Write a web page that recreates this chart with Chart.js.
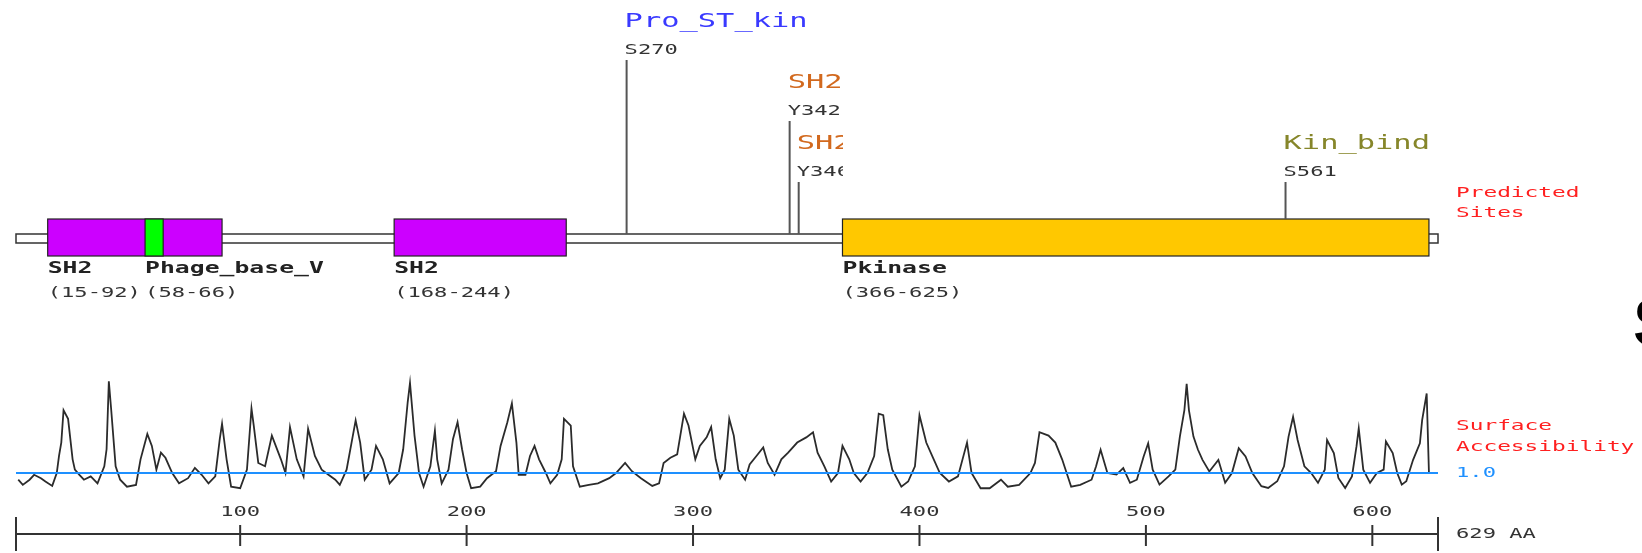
<!DOCTYPE html>
<html>
<head>
<meta charset="utf-8">
<script src="https://cdn.jsdelivr.net/npm/chart.js@4/dist/chart.umd.min.js"></script>
<style>
  html, body { margin: 0; padding: 0; background: #fff; overflow: hidden; }
  canvas { display: block; }
</style>
</head>
<body>
<canvas id="c" width="1642" height="553"></canvas>
<script>
// ---- protein data ----
const proteinLength = 629;

const domainNames  = ['SH2', 'Phage_base_V', 'SH2', 'Pkinase'];
const domainStarts = [15, 58, 168, 366];
const domainEnds   = [92, 66, 244, 625];

const siteNames    = ['Pro_ST_kin', 'SH2', 'SH2', 'Kin_bind'];
const siteResidues = [270, 342, 346, 561];
const siteLabels   = ['S270', 'Y342', 'Y346', 'S561'];

const axisTicks = [100, 200, 300, 400, 500, 600];
const accThreshold = 1.0;

// surface accessibility profile (residue, value)
const accPos = [
  2, 4, 7, 9, 12, 14, 17, 19, 20, 21, 22, 24, 26, 27, 29, 31, 34, 37, 40, 41,
  42, 43, 45, 47, 50, 54, 56, 59, 61, 63, 65, 67, 70, 73, 77, 80, 83, 86, 89, 91,
  92, 94, 96, 100, 103, 105, 106, 108, 111, 114, 118, 120, 122, 125, 128, 130, 133, 136, 139, 142,
  144, 147, 151, 153, 155, 158, 160, 163, 166, 170, 172, 174, 175, 177, 179, 181, 184, 186, 187, 189,
  192, 194, 196, 198, 200, 202, 206, 209, 213, 215, 218, 220, 222, 223, 226, 228, 230, 232, 235, 237,
  240, 242, 243, 246, 247, 250, 254, 258, 263, 266, 270, 273, 277, 282, 285, 287, 290, 293, 296, 298,
  301, 303, 306, 308, 310, 312, 314, 316, 318, 320, 323, 325, 328, 331, 333, 336, 339, 342, 346, 350,
  353, 355, 358, 361, 364, 366, 369, 371, 374, 377, 380, 382, 384, 386, 388, 392, 395, 398, 400, 403,
  406, 409, 413, 417, 421, 423, 427, 431, 436, 439, 444, 449, 451, 453, 457, 460, 463, 465, 467, 471,
  476, 478, 480, 483, 487, 490, 493, 496, 499, 501, 503, 506, 510, 513, 515, 517, 518, 519, 521, 523,
  525, 528, 532, 535, 538, 541, 544, 547, 551, 554, 558, 561, 563, 565, 567, 570, 573, 576, 579, 580,
  583, 585, 588, 591, 593, 594, 596, 599, 602, 605, 606, 609, 611, 613, 615, 618, 621, 622, 624, 625
];
const accVal = [
  0.74, 0.54, 0.74, 0.93, 0.80, 0.67, 0.50, 1.00, 1.66, 2.18, 3.43, 3.10, 1.53, 1.13, 0.93, 0.74, 0.87, 0.60, 1.26, 1.92,
  4.55, 3.50, 1.26, 0.74, 0.47, 0.54, 1.53, 2.51, 2.05, 1.13, 1.79, 1.59, 1.00, 0.60, 0.80, 1.20, 0.93, 0.60, 0.87, 2.32,
  2.91, 1.53, 0.47, 0.41, 1.13, 3.50, 2.84, 1.39, 1.26, 2.45, 1.53, 1.00, 2.78, 1.53, 0.87, 2.71, 1.66, 1.13, 0.93, 0.74,
  0.54, 1.13, 3.04, 2.18, 0.74, 1.13, 2.05, 1.53, 0.60, 1.00, 1.92, 3.76, 4.49, 2.45, 1.00, 0.47, 1.26, 2.64, 1.53, 0.60,
  1.13, 2.32, 2.97, 1.92, 1.00, 0.41, 0.47, 0.80, 1.07, 2.05, 2.97, 3.70, 2.18, 0.93, 0.93, 1.66, 2.05, 1.53, 1.00, 0.60,
  0.93, 1.53, 3.10, 2.84, 1.26, 0.47, 0.54, 0.60, 0.80, 1.00, 1.39, 1.07, 0.80, 0.50, 0.60, 1.39, 1.59, 1.72, 3.30, 2.84,
  1.53, 2.05, 2.38, 2.78, 1.53, 0.80, 1.13, 3.10, 2.45, 1.13, 0.74, 1.33, 1.66, 1.99, 1.39, 0.93, 1.53, 1.79, 2.18, 2.38,
  2.58, 1.79, 1.26, 0.67, 1.00, 2.05, 1.53, 1.00, 0.67, 1.00, 1.66, 3.30, 3.24, 1.92, 1.13, 0.47, 0.67, 1.26, 3.24, 2.18,
  1.59, 1.00, 0.67, 0.87, 2.18, 1.00, 0.41, 0.41, 0.74, 0.47, 0.54, 1.00, 1.39, 2.58, 2.45, 2.18, 1.53, 1.00, 0.47, 0.54,
  0.74, 1.26, 1.90, 1.00, 0.94, 1.19, 0.62, 0.74, 1.64, 2.15, 1.13, 0.55, 0.87, 1.13, 2.41, 3.44, 4.46, 3.44, 2.41, 1.90,
  1.51, 1.06, 1.51, 0.62, 1.00, 1.96, 1.64, 1.00, 0.49, 0.42, 0.68, 1.26, 2.41, 3.18, 2.28, 1.26, 1.00, 0.62, 1.13, 2.28,
  1.77, 0.81, 0.42, 0.87, 2.03, 2.73, 1.13, 0.62, 1.00, 1.13, 2.22, 1.77, 1.00, 0.55, 0.68, 1.51, 2.15, 3.05, 4.08, 1.00
];

// ---- styling ----
const domainFill = { 'SH2': '#cc00ff', 'Phage_base_V': '#00ff00', 'Pkinase': '#ffc800' };
const siteColor  = { 'Pro_ST_kin': '#3a3aff', 'SH2': '#d2691e', 'Kin_bind': '#86862a' };
const siteLevel  = [0, 1, 2, 2];

const BACK_TOP = 234, BACK_BOT = 243;
const BOX_TOP = 219, BOX_BOT = 256;
const AXIS_Y = 534;
const MONO = '"DejaVu Sans Mono", monospace';
const FONT_SMALL = '14px ' + MONO, SX_SMALL = 1.58;
const FONT_SITE = '19px ' + MONO, SX_SITE = 1.6;
const FONT_DOM = 'bold 15px ' + MONO, SX_DOM = 1.65;

function label(ctx, s, x, y, font, color, sx, align) {
  ctx.save();
  ctx.font = font;
  ctx.fillStyle = color;
  ctx.textBaseline = 'middle';
  ctx.textAlign = 'left';
  const w = ctx.measureText(s).width * sx;
  const x0 = align === 'center' ? x - w / 2 : x;
  ctx.translate(x0, y);
  ctx.scale(sx, 1);
  ctx.fillText(s, 0, 0);
  ctx.restore();
}

const proteinTrack = {
  id: 'proteinTrack',
  afterDraw(chart) {
    const ctx = chart.ctx;
    const xs = chart.scales.x;
    const px = r => xs.getPixelForValue(r);

    // backbone
    ctx.save();
    ctx.fillStyle = '#fff';
    ctx.strokeStyle = '#333';
    ctx.lineWidth = 1.5;
    ctx.fillRect(px(1), BACK_TOP, px(proteinLength) - px(1), BACK_BOT - BACK_TOP);
    ctx.strokeRect(px(1), BACK_TOP, px(proteinLength) - px(1), BACK_BOT - BACK_TOP);
    ctx.restore();

    // domains, larger first so nested motifs sit on top
    const order = domainNames.map((_, i) => i)
      .sort((a, b) => (domainEnds[b] - domainStarts[b]) - (domainEnds[a] - domainStarts[a]));
    order.forEach(i => {
      const x0 = px(domainStarts[i]), x1 = px(domainEnds[i]);
      ctx.save();
      ctx.fillStyle = domainFill[domainNames[i]];
      ctx.fillRect(x0, BOX_TOP, x1 - x0, BOX_BOT - BOX_TOP);
      ctx.strokeStyle = '#222';
      ctx.lineWidth = 1.2;
      ctx.strokeRect(x0, BOX_TOP, x1 - x0, BOX_BOT - BOX_TOP);
      ctx.restore();
    });
    domainNames.forEach((n, i) => {
      const x0 = px(domainStarts[i]);
      label(ctx, n, x0, 269, FONT_DOM, '#222', SX_DOM);
      label(ctx, '(' + domainStarts[i] + '-' + domainEnds[i] + ')', x0, 293, FONT_SMALL, '#333', SX_SMALL);
    });

    // predicted sites
    siteNames.forEach((n, i) => {
      const r = siteResidues[i];
      const x = px(r) + 1.5;
      const yName = 22 + 61 * siteLevel[i];
      const inDomain = domainNames.some((d, j) => r >= domainStarts[j] && r <= domainEnds[j]);
      ctx.save();
      ctx.strokeStyle = '#555';
      ctx.lineWidth = 2;
      ctx.beginPath();
      ctx.moveTo(x, yName + 38);
      ctx.lineTo(x, inDomain ? BOX_TOP : BACK_TOP);
      ctx.stroke();
      ctx.restore();
      ctx.save();
      if (n === 'SH2') { ctx.beginPath(); ctx.rect(0, 0, 843, 553); ctx.clip(); }
      label(ctx, n, x - 2, yName, FONT_SITE, siteColor[n], SX_SITE);
      label(ctx, siteLabels[i], x - 2, yName + 28, FONT_SMALL, '#333', SX_SMALL);
      ctx.restore();
    });
    label(ctx, 'Predicted', 1456, 193, FONT_SMALL, '#ff2020', SX_SMALL * 1.03);
    label(ctx, 'Sites', 1456, 213, FONT_SMALL, '#ff2020', SX_SMALL * 1.03);

    // accessibility legend
    label(ctx, 'Surface', 1456, 426, FONT_SMALL, '#ff2020', SX_SMALL * 1.03);
    label(ctx, 'Accessibility', 1456, 447, FONT_SMALL, '#ff2020', SX_SMALL * 1.03);
    label(ctx, accThreshold.toFixed(1), 1456, 473, FONT_SMALL, '#1e90ff', SX_SMALL);

    // residue axis
    ctx.save();
    ctx.strokeStyle = '#333';
    ctx.lineWidth = 2;
    ctx.beginPath();
    ctx.moveTo(px(1), AXIS_Y); ctx.lineTo(px(proteinLength), AXIS_Y);
    ctx.moveTo(px(1), 517); ctx.lineTo(px(1), 551);
    ctx.moveTo(px(proteinLength), 517); ctx.lineTo(px(proteinLength), 551);
    axisTicks.forEach(t => { ctx.moveTo(px(t), 525); ctx.lineTo(px(t), 546); });
    ctx.stroke();
    ctx.restore();
    axisTicks.forEach(t => label(ctx, String(t), px(t), 512, FONT_SMALL, '#333', SX_SMALL, 'center'));
    label(ctx, proteinLength + ' AA', 1456, 534, FONT_SMALL, '#333', SX_SMALL);

    // large heading glyph at the right edge
    ctx.save();
    ctx.font = 'bold 68px "Liberation Sans", Arial, sans-serif';
    ctx.fillStyle = '#000';
    ctx.textBaseline = 'alphabetic';
    ctx.fillText('S', 1633, 346);
    ctx.restore();
  }
};

new Chart(document.getElementById('c'), {
  type: 'line',
  data: {
    datasets: [
      {
        label: 'Surface Accessibility',
        data: accPos.map((p, i) => ({ x: p, y: accVal[i] })),
        borderColor: '#2b2b2b',
        borderWidth: 1.8,
        pointRadius: 0,
        tension: 0,
        yAxisID: 'acc',
        order: 1
      },
      {
        label: 'threshold',
        data: [{ x: 1, y: accThreshold }, { x: proteinLength, y: accThreshold }],
        borderColor: '#1e90ff',
        borderWidth: 2,
        pointRadius: 0,
        yAxisID: 'acc',
        order: 0
      }
    ]
  },
  options: {
    responsive: false,
    animation: false,
    devicePixelRatio: 1,
    layout: { padding: { left: 16, right: 204, top: 0, bottom: 0 } },
    scales: {
      x: { type: 'linear', min: 1, max: proteinLength, display: false },
      acc: { type: 'linear', min: -2.1, max: 19.33, display: false }
    },
    plugins: { legend: { display: false }, tooltip: { enabled: false } }
  },
  plugins: [proteinTrack]
});
</script>
</body>
</html>
